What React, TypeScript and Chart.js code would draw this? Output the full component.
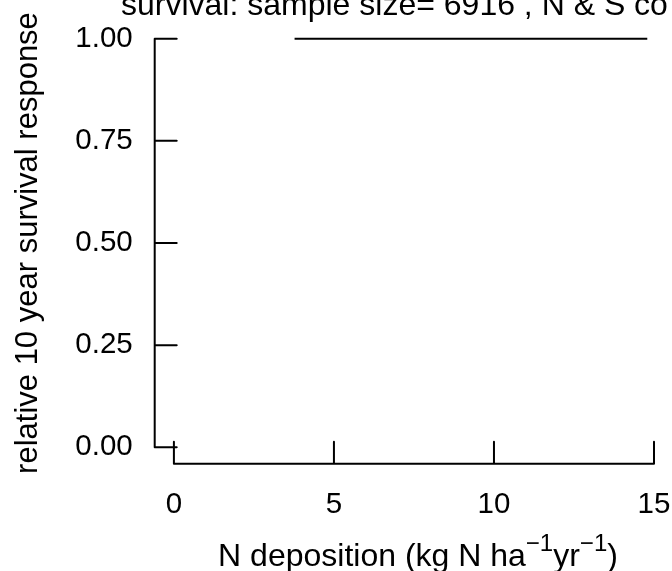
import { useEffect, useRef } from "react";
import { Chart, registerables } from "chart.js";

Chart.register(...registerables);

// ---- data ----
const titleText = "survival: sample size= 6916 , N & S co";
const yAxisTitle = "relative 10 year survival response";
const xTitleMain = "N deposition (kg N ha";
const xTitleSup = "−1";
const xTitleMid = "yr";
const xTitleEnd = ")";
const xTicks = [0, 5, 10, 15];
const yTicks = [0, 0.25, 0.5, 0.75, 1];
const responseX = [3.77, 14.79];
const responseY = [1, 1];

const FONT = "'Liberation Sans', Arial, Helvetica, sans-serif";
const FS_TICK = 29.5;
const FS_LAB = 32;
const FS_YLAB = 31;
const FS_TITLE = 32;

const rAxesPlugin = {
  id: "rAxes",
  afterDraw(chart: any) {
    const { ctx, chartArea, scales } = chart;
    const xs = scales.x;
    const ys = scales.y;
    ctx.save();
    ctx.strokeStyle = "#000";
    ctx.fillStyle = "#000";
    ctx.lineWidth = 2;
    ctx.lineCap = "round";
    const tickLen = 22;
    // y axis
    const yL = chartArea.left;
    ctx.beginPath();
    ctx.moveTo(yL, ys.getPixelForValue(yTicks[0]));
    ctx.lineTo(yL, ys.getPixelForValue(yTicks[yTicks.length - 1]));
    for (const v of yTicks) {
      const p = ys.getPixelForValue(v);
      ctx.moveTo(yL, p);
      ctx.lineTo(yL + tickLen, p);
    }
    ctx.stroke();
    // x axis
    const xB = chartArea.bottom;
    ctx.beginPath();
    ctx.moveTo(xs.getPixelForValue(xTicks[0]), xB);
    ctx.lineTo(xs.getPixelForValue(xTicks[xTicks.length - 1]), xB);
    for (const v of xTicks) {
      const p = xs.getPixelForValue(v);
      ctx.moveTo(p, xB);
      ctx.lineTo(p, xB - tickLen);
    }
    ctx.stroke();

    // main title
    ctx.font = `${FS_TITLE}px ${FONT}`;
    ctx.textAlign = "left";
    ctx.textBaseline = "alphabetic";
    ctx.fillText(titleText, 121, 15);

    // y title
    const cy = (chartArea.top + chartArea.bottom) / 2;
    ctx.save();
    ctx.font = `${FS_YLAB}px ${FONT}`;
    ctx.translate(37, cy);
    ctx.rotate(-Math.PI / 2);
    ctx.textAlign = "center";
    ctx.fillText(yAxisTitle, 0, 0);
    ctx.restore();

    // x title with superscripts
    const supFS = FS_LAB * 0.75;
    const big = `${FS_LAB}px ${FONT}`;
    const small = `${supFS}px ${FONT}`;
    ctx.font = big;
    const w1 = ctx.measureText(xTitleMain).width;
    const w3 = ctx.measureText(xTitleMid).width;
    const w5 = ctx.measureText(xTitleEnd).width;
    ctx.font = small;
    const w2 = ctx.measureText(xTitleSup).width;
    const total = w1 + w2 + w3 + w2 + w5;
    const cx = 418;
    let x = cx - total / 2;
    const base = 566;
    const supBase = base - 15;
    ctx.textAlign = "left";
    ctx.font = big;
    ctx.fillText(xTitleMain, x, base);
    x += w1;
    ctx.font = small;
    ctx.fillText(xTitleSup, x, supBase);
    x += w2;
    ctx.font = big;
    ctx.fillText(xTitleMid, x, base);
    x += w3;
    ctx.font = small;
    ctx.fillText(xTitleSup, x, supBase);
    x += w2;
    ctx.font = big;
    ctx.fillText(xTitleEnd, x, base);
    ctx.restore();
  },
};

export default function App() {
  const ref = useRef<HTMLCanvasElement | null>(null);
  useEffect(() => {
    if (!ref.current) return;
    const chart = new Chart(ref.current, {
      type: "line",
      data: {
        datasets: [
          {
            data: responseX.map((x, i) => ({ x, y: responseY[i] })),
            borderColor: "#000",
            borderWidth: 2,
            pointRadius: 0,
            fill: false,
            tension: 0,
          },
        ],
      },
      options: {
        responsive: false,
        maintainAspectRatio: false,
        animation: false,
        layout: { padding: { top: 22.35, right: 0, left: 0, bottom: 0 } },
        plugins: {
          legend: { display: false },
          tooltip: { enabled: false },
          title: { display: false },
        },
        scales: {
          x: {
            type: "linear",
            min: -0.6,
            max: 15.5625,
            grid: { display: false, drawTicks: false },
            border: { display: false },
            ticks: {
              color: "#000",
              font: { family: FONT, size: FS_TICK },
              padding: 23,
              autoSkip: false,
              maxRotation: 0,
              callback: (v: any) => String(v),
            },
            afterBuildTicks: (s: any) => {
              s.ticks = xTicks.map((v) => ({ value: v }));
            },
            afterFit: (s: any) => {
              s.height = 107.3;
              s.paddingLeft = 0;
              s.paddingRight = 0;
              s.paddingTop = 0;
              s.paddingBottom = 0;
            },
          },
          y: {
            type: "linear",
            min: -0.04,
            max: 1.04,
            grid: { display: false, drawTicks: false },
            border: { display: false },
            ticks: {
              color: "#000",
              font: { family: FONT, size: FS_TICK },
              padding: 22,
              autoSkip: false,
              callback: (v: any) => Number(v).toFixed(2),
            },
            afterBuildTicks: (s: any) => {
              s.ticks = yTicks.map((v) => ({ value: v }));
            },
            afterFit: (s: any) => {
              s.width = 154.7;
              s.paddingLeft = 0;
              s.paddingRight = 0;
              s.paddingTop = 0;
              s.paddingBottom = 0;
            },
          },
        },
      },
      plugins: [rAxesPlugin],
    });
    return () => chart.destroy();
  }, []);
  return (
    <div style={{ position: "absolute", left: 0, top: 0, width: 672, height: 571, background: "#fff" }}>
      <canvas ref={ref} width={672} height={571} style={{ display: "block", width: 672, height: 571 }} />
    </div>
  );
}
